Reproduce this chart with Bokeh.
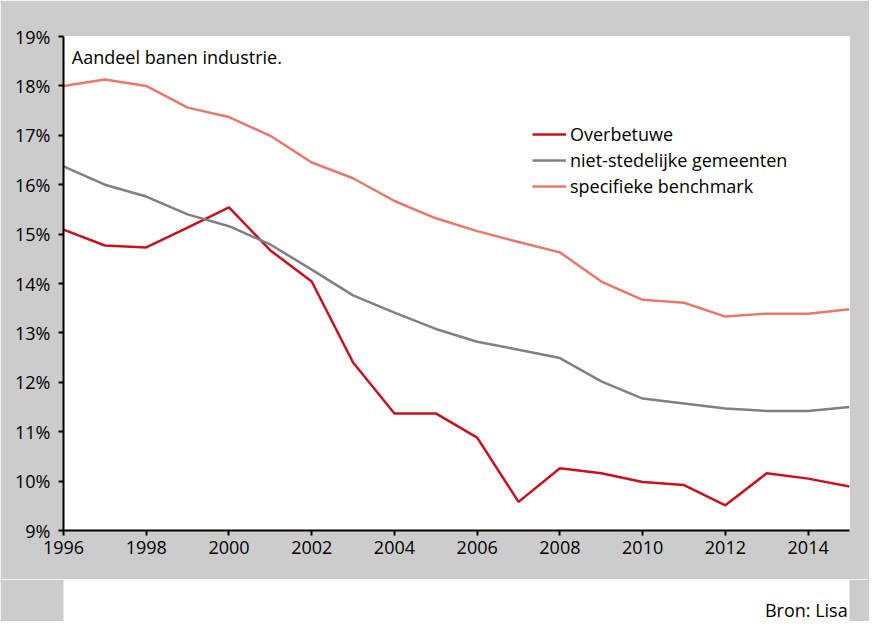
from bokeh.plotting import figure
from bokeh.layouts import column
from bokeh.models import (FixedTicker, CustomJSTickFormatter, Label, BoxAnnotation,
                          Legend, LegendItem, ColumnDataSource, Range1d)
from bokeh.embed import file_html
from bokeh.resources import INLINE

years = list(range(1996, 2016))
overbetuwe = [15.09, 14.77, 14.73, 15.13, 15.54, 14.67, 14.04, 12.40, 11.37, 11.37,
              10.88, 9.58, 10.26, 10.16, 9.98, 9.92, 9.51, 10.16, 10.05, 9.89]
niet_stedelijk = [16.37, 16.00, 15.76, 15.40, 15.16, 14.79, 14.28, 13.76, 13.41, 13.08,
                  12.82, 12.66, 12.49, 12.02, 11.67, 11.57, 11.47, 11.42, 11.42, 11.50]
benchmark = [18.00, 18.13, 18.00, 17.56, 17.37, 16.99, 16.45, 16.13, 15.67, 15.32,
             15.06, 14.84, 14.63, 14.04, 13.67, 13.61, 13.33, 13.39, 13.39, 13.48]
series_names = ["Overbetuwe", "niet-stedelijke gemeenten", "specifieke benchmark"]
colors = ["#c8101f", "#808080", "#e8786e"]
x_ticks = list(range(1996, 2015, 2))
y_ticks = list(range(9, 20))
source_text = "Bron: Lisa"

FONT = "Open Sans"
GRAY = "#cccccc"
FS = "18px"

p = figure(width=869, height=579, output_backend="svg", toolbar_location=None,
           x_range=Range1d(1996, 2015), y_range=Range1d(9, 19),
           min_border_left=63, min_border_right=20, min_border_top=36, min_border_bottom=49)
p.border_fill_color = GRAY
p.background_fill_color = "white"
p.outline_line_color = None
p.xgrid.visible = False
p.ygrid.visible = False

# white panel behind chart
panel = BoxAnnotation(left=1994.53, right=2016.0, top=19.43, bottom=7.5,
                      fill_color="white", fill_alpha=1.0, line_color=None, level="underlay")
p.add_layout(panel)

src = ColumnDataSource(dict(x=years, a=overbetuwe, b=niet_stedelijk, c=benchmark))
r1 = p.line("x", "a", source=src, line_color=colors[0], line_width=2.5)
r2 = p.line("x", "b", source=src, line_color=colors[1], line_width=2.5)
r3 = p.line("x", "c", source=src, line_color=colors[2], line_width=2.5)

for ax in (p.xaxis[0], p.yaxis[0]):
    ax.axis_line_color = "black"
    ax.axis_line_width = 2
    ax.major_tick_line_color = "black"
    ax.major_tick_line_width = 2
    ax.major_tick_in = 0
    ax.major_tick_out = 5
    ax.minor_tick_line_color = None
    ax.major_label_text_font = FONT
    ax.major_label_text_font_size = FS
    ax.major_label_text_color = "black"

p.xaxis.ticker = FixedTicker(ticks=x_ticks)
p.yaxis.ticker = FixedTicker(ticks=y_ticks)
p.yaxis.formatter = CustomJSTickFormatter(code="return tick.toFixed(0) + '%';")
p.xaxis.major_label_standoff = 5
p.yaxis.major_label_standoff = 8

legend = Legend(items=[LegendItem(label=series_names[0], renderers=[r1]),
                       LegendItem(label=series_names[1], renderers=[r2]),
                       LegendItem(label=series_names[2], renderers=[r3])],
                location=(469, 332), padding=0, spacing=2, margin=0,
                glyph_width=34, glyph_height=20, label_height=20, label_standoff=4,
                border_line_color=None, background_fill_alpha=0,
                label_text_font=FONT, label_text_font_size=FS, label_text_color="black")
p.add_layout(legend)

p.add_layout(Label(x=1996.2, y=18.575, text="Aandeel banen industrie.",
                   text_font=FONT, text_font_size=FS, text_color="black",
                   text_baseline="middle", text_align="left"))

# bottom grey band with the source note
p2 = figure(width=869, height=42, output_backend="svg", toolbar_location=None,
            x_range=Range1d(0, 869), y_range=Range1d(0, 42),
            x_axis_type=None, y_axis_type=None, min_border=0)
p2.border_fill_color = GRAY
p2.background_fill_color = GRAY
p2.background_fill_alpha = 0
p2.outline_line_color = None
p2.xgrid.visible = False
p2.ygrid.visible = False
p2.add_layout(Label(x=867, y=12, text=source_text,
                    text_font=FONT, text_font_size=FS, text_color="black",
                    text_baseline="middle", text_align="right"))

layout = column(p, p2, spacing=0)
open("out.html", "w").write(file_html(layout, INLINE))
